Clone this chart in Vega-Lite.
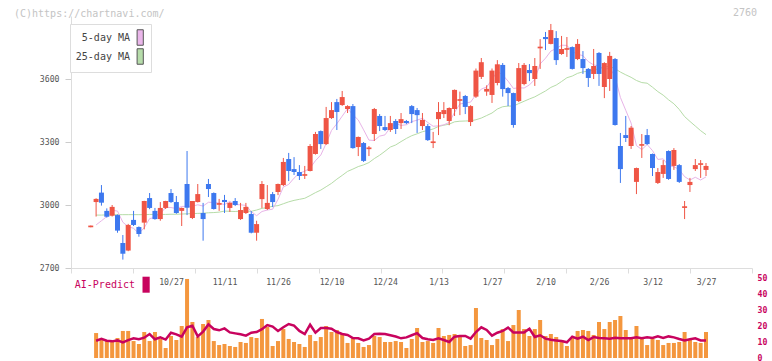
{
"$schema": "https://vega.github.io/schema/vega-lite/v6.json",
"padding": {"left": 14, "top": 8, "right": 4, "bottom": 3},
"background": "white",
"bounds": "flush",
"spacing": 10,
"title": {"text": "2760", "anchor": "end", "frame": "group", "dx": 5, "offset": -9.3},
"datasets": {"d": [
{"d":"2025-10-03","o":2894,"h":2902,"l":2894,"c":2902,"m5":null,"m25":null,"v":0,"ai":null},
{"d":"2025-10-06","o":3014,"h":3032,"l":2945,"c":3029,"m5":2905,"m25":2952,"v":15.6,"ai":10.8},
{"d":"2025-10-07","o":3059,"h":3095,"l":2997,"c":3011,"m5":2925,"m25":2952,"v":11.25,"ai":12},
{"d":"2025-10-08","o":2972,"h":2984,"l":2940,"c":2944,"m5":2945,"m25":2953,"v":11.25,"ai":10.8},
{"d":"2025-10-09","o":2949,"h":3000,"l":2945,"c":2991,"m5":2975,"m25":2953,"v":10.6,"ai":10.4},
{"d":"2025-10-10","o":2952,"h":2955,"l":2868,"c":2878,"m5":2971,"m25":2954,"v":12.5,"ai":11},
{"d":"2025-10-14","o":2819,"h":2857,"l":2740,"c":2768,"m5":2918,"m25":2954,"v":16.9,"ai":9.8},
{"d":"2025-10-15","o":2783,"h":2910,"l":2780,"c":2905,"m5":2897,"m25":2954,"v":16.9,"ai":11.2},
{"d":"2025-10-16","o":2929,"h":2972,"l":2900,"c":2905,"m5":2889,"m25":2954,"v":10.6,"ai":12.3},
{"d":"2025-10-17","o":2895,"h":2898,"l":2849,"c":2862,"m5":2864,"m25":2954,"v":8.75,"ai":11.7},
{"d":"2025-10-20","o":2916,"h":3020,"l":2884,"c":3019,"m5":2892,"m25":2954,"v":16.25,"ai":12.7},
{"d":"2025-10-21","o":3033,"h":3057,"l":2980,"c":2986,"m5":2935,"m25":2955,"v":10.6,"ai":15},
{"d":"2025-10-22","o":2972,"h":2986,"l":2930,"c":2933,"m5":2941,"m25":2955,"v":16.25,"ai":11.7},
{"d":"2025-10-23","o":2933,"h":3014,"l":2925,"c":2986,"m5":2957,"m25":2955,"v":11.9,"ai":12.9},
{"d":"2025-10-24","o":2986,"h":3020,"l":2981,"c":3019,"m5":2989,"m25":2955,"v":6.25,"ai":11.5},
{"d":"2025-10-27","o":3057,"h":3076,"l":3010,"c":3014,"m5":2988,"m25":2956,"v":13.75,"ai":15.8},
{"d":"2025-10-28","o":3014,"h":3043,"l":2958,"c":2962,"m5":2983,"m25":2956,"v":11.25,"ai":14.8},
{"d":"2025-10-29","o":2972,"h":2988,"l":2900,"c":2986,"m5":2993,"m25":2957,"v":20,"ai":13.3},
{"d":"2025-10-30","o":3100,"h":3257,"l":2952,"c":2987,"m5":2994,"m25":2958,"v":49.4,"ai":19.2},
{"d":"2025-10-31","o":2938,"h":3019,"l":2933,"c":3019,"m5":2994,"m25":2959,"v":22.5,"ai":20.2},
{"d":"2025-11-04","o":3014,"h":3100,"l":3012,"c":3052,"m5":3001,"m25":2960,"v":13.1,"ai":13.5},
{"d":"2025-11-05","o":2962,"h":3010,"l":2830,"c":2933,"m5":2995,"m25":2961,"v":21.25,"ai":16.5},
{"d":"2025-11-06","o":3100,"h":3124,"l":3038,"c":3076,"m5":3013,"m25":2963,"v":23.75,"ai":21},
{"d":"2025-11-07","o":3057,"h":3060,"l":2978,"c":2981,"m5":3012,"m25":2964,"v":10.6,"ai":18.1},
{"d":"2025-11-10","o":3001,"h":3029,"l":2972,"c":3009,"m5":3009,"m25":2966,"v":8.1,"ai":17.3},
{"d":"2025-11-11","o":3024,"h":3048,"l":2962,"c":3014,"m5":3002,"m25":2971,"v":8.75,"ai":18.5},
{"d":"2025-11-12","o":2986,"h":3014,"l":2967,"c":3010,"m5":3017,"m25":2970,"v":7.5,"ai":16},
{"d":"2025-11-13","o":3019,"h":3033,"l":2995,"c":3000,"m5":3002,"m25":2969,"v":6.9,"ai":15.4},
{"d":"2025-11-14","o":2933,"h":3010,"l":2929,"c":2976,"m5":3001,"m25":2971,"v":10,"ai":14.8},
{"d":"2025-11-17","o":2962,"h":3010,"l":2957,"c":2991,"m5":2998,"m25":2971,"v":9.4,"ai":14},
{"d":"2025-11-18","o":2957,"h":2971,"l":2865,"c":2868,"m5":2969,"m25":2970,"v":13.1,"ai":15.8},
{"d":"2025-11-19","o":2868,"h":2925,"l":2830,"c":2909,"m5":2949,"m25":2976,"v":12.5,"ai":16.25},
{"d":"2025-11-20","o":3028,"h":3114,"l":2986,"c":3100,"m5":2969,"m25":2984,"v":24.4,"ai":18},
{"d":"2025-11-21","o":2981,"h":3095,"l":2976,"c":3010,"m5":2976,"m25":2988,"v":19.4,"ai":20.6},
{"d":"2025-11-25","o":3052,"h":3062,"l":2990,"c":3014,"m5":2980,"m25":2994,"v":7.5,"ai":19.6},
{"d":"2025-11-26","o":3062,"h":3102,"l":3047,"c":3100,"m5":3027,"m25":2997,"v":10.6,"ai":16.9},
{"d":"2025-11-27","o":3095,"h":3224,"l":3090,"c":3205,"m5":3086,"m25":3006,"v":18.1,"ai":19.2},
{"d":"2025-11-28","o":3219,"h":3248,"l":3114,"c":3162,"m5":3098,"m25":3015,"v":11.9,"ai":21.25},
{"d":"2025-12-01","o":3171,"h":3228,"l":3143,"c":3157,"m5":3128,"m25":3022,"v":10,"ai":20.2},
{"d":"2025-12-02","o":3157,"h":3190,"l":3119,"c":3138,"m5":3152,"m25":3027,"v":8.75,"ai":16.9},
{"d":"2025-12-03","o":3139,"h":3186,"l":3124,"c":3147,"m5":3161,"m25":3032,"v":6.9,"ai":15},
{"d":"2025-12-04","o":3162,"h":3290,"l":3160,"c":3281,"m5":3176,"m25":3045,"v":14.4,"ai":20.8},
{"d":"2025-12-05","o":3243,"h":3348,"l":3240,"c":3338,"m5":3211,"m25":3059,"v":10.6,"ai":15.8},
{"d":"2025-12-08","o":3352,"h":3355,"l":3267,"c":3290,"m5":3238,"m25":3071,"v":13.1,"ai":18.75},
{"d":"2025-12-09","o":3290,"h":3467,"l":3286,"c":3414,"m5":3293,"m25":3087,"v":20,"ai":18.75},
{"d":"2025-12-10","o":3414,"h":3490,"l":3410,"c":3452,"m5":3355,"m25":3103,"v":16.25,"ai":18.3},
{"d":"2025-12-11","o":3490,"h":3505,"l":3357,"c":3443,"m5":3387,"m25":3123,"v":17.5,"ai":16.25},
{"d":"2025-12-12","o":3476,"h":3543,"l":3472,"c":3514,"m5":3423,"m25":3141,"v":15,"ai":15},
{"d":"2025-12-15","o":3457,"h":3475,"l":3438,"c":3471,"m5":3459,"m25":3160,"v":9.4,"ai":14.4},
{"d":"2025-12-16","o":3471,"h":3481,"l":3268,"c":3271,"m5":3430,"m25":3171,"v":12.5,"ai":12.5},
{"d":"2025-12-17","o":3276,"h":3326,"l":3233,"c":3324,"m5":3405,"m25":3183,"v":9.4,"ai":12.3},
{"d":"2025-12-18","o":3295,"h":3300,"l":3205,"c":3210,"m5":3358,"m25":3191,"v":6.9,"ai":11},
{"d":"2025-12-19","o":3266,"h":3281,"l":3233,"c":3274,"m5":3309,"m25":3202,"v":8.1,"ai":12.1},
{"d":"2025-12-22","o":3338,"h":3462,"l":3305,"c":3457,"m5":3307,"m25":3221,"v":13.75,"ai":15},
{"d":"2025-12-23","o":3424,"h":3433,"l":3352,"c":3376,"m5":3328,"m25":3237,"v":13.1,"ai":15.2},
{"d":"2025-12-24","o":3371,"h":3424,"l":3352,"c":3357,"m5":3334,"m25":3256,"v":10,"ai":15},
{"d":"2025-12-25","o":3357,"h":3424,"l":3348,"c":3390,"m5":3370,"m25":3276,"v":10,"ai":14.2},
{"d":"2025-12-26","o":3400,"h":3409,"l":3338,"c":3362,"m5":3388,"m25":3286,"v":10.6,"ai":13.4},
{"d":"2025-12-29","o":3390,"h":3438,"l":3362,"c":3409,"m5":3379,"m25":3302,"v":10,"ai":12.3},
{"d":"2025-12-30","o":3400,"h":3405,"l":3385,"c":3390,"m5":3382,"m25":3317,"v":6.25,"ai":12.9},
{"d":"2026-01-05","o":3471,"h":3476,"l":3390,"c":3433,"m5":3397,"m25":3330,"v":11.9,"ai":14.2},
{"d":"2026-01-06","o":3452,"h":3462,"l":3343,"c":3428,"m5":3404,"m25":3339,"v":18.75,"ai":15.5},
{"d":"2026-01-07","o":3376,"h":3438,"l":3357,"c":3405,"m5":3413,"m25":3349,"v":10,"ai":12.5},
{"d":"2026-01-08","o":3376,"h":3386,"l":3305,"c":3309,"m5":3393,"m25":3355,"v":10.6,"ai":11.7},
{"d":"2026-01-09","o":3295,"h":3348,"l":3271,"c":3303,"m5":3375,"m25":3362,"v":9.4,"ai":11.25},
{"d":"2026-01-13","o":3409,"h":3490,"l":3333,"c":3443,"m5":3377,"m25":3374,"v":18.75,"ai":12.3},
{"d":"2026-01-14","o":3433,"h":3490,"l":3414,"c":3452,"m5":3382,"m25":3380,"v":13.75,"ai":11.25},
{"d":"2026-01-15","o":3400,"h":3465,"l":3380,"c":3462,"m5":3393,"m25":3385,"v":14.4,"ai":10},
{"d":"2026-01-16","o":3457,"h":3550,"l":3424,"c":3548,"m5":3441,"m25":3396,"v":15,"ai":13.3},
{"d":"2026-01-19","o":3496,"h":3540,"l":3428,"c":3504,"m5":3481,"m25":3399,"v":13.1,"ai":13.75},
{"d":"2026-01-20","o":3519,"h":3524,"l":3433,"c":3467,"m5":3486,"m25":3400,"v":7.5,"ai":13.75},
{"d":"2026-01-21","o":3395,"h":3475,"l":3376,"c":3471,"m5":3490,"m25":3401,"v":8.1,"ai":12.1},
{"d":"2026-01-22","o":3516,"h":3650,"l":3510,"c":3640,"m5":3525,"m25":3406,"v":31.25,"ai":16.25},
{"d":"2026-01-23","o":3610,"h":3700,"l":3600,"c":3680,"m5":3552,"m25":3414,"v":12.5,"ai":19.2},
{"d":"2026-01-26","o":3540,"h":3570,"l":3520,"c":3553,"m5":3562,"m25":3426,"v":11.25,"ai":17.5},
{"d":"2026-01-27","o":3524,"h":3650,"l":3486,"c":3640,"m5":3597,"m25":3438,"v":8.1,"ai":14},
{"d":"2026-01-28","o":3581,"h":3690,"l":3570,"c":3670,"m5":3637,"m25":3457,"v":11.9,"ai":15.8},
{"d":"2026-01-29","o":3667,"h":3676,"l":3516,"c":3552,"m5":3619,"m25":3468,"v":18.1,"ai":16.9},
{"d":"2026-01-30","o":3557,"h":3562,"l":3471,"c":3533,"m5":3590,"m25":3471,"v":10.6,"ai":19},
{"d":"2026-02-02","o":3533,"h":3535,"l":3368,"c":3381,"m5":3555,"m25":3471,"v":20.6,"ai":16},
{"d":"2026-02-03","o":3495,"h":3676,"l":3490,"c":3652,"m5":3558,"m25":3483,"v":30,"ai":16},
{"d":"2026-02-04","o":3576,"h":3676,"l":3570,"c":3667,"m5":3557,"m25":3494,"v":18.1,"ai":16},
{"d":"2026-02-05","o":3643,"h":3671,"l":3590,"c":3628,"m5":3572,"m25":3505,"v":13.75,"ai":18.3},
{"d":"2026-02-06","o":3600,"h":3700,"l":3567,"c":3662,"m5":3598,"m25":3515,"v":18.1,"ai":13.1},
{"d":"2026-02-09","o":3746,"h":3790,"l":3648,"c":3754,"m5":3672,"m25":3529,"v":23.75,"ai":14.2},
{"d":"2026-02-10","o":3800,"h":3824,"l":3738,"c":3790,"m5":3699,"m25":3543,"v":13.75,"ai":12.1},
{"d":"2026-02-12","o":3767,"h":3862,"l":3765,"c":3833,"m5":3733,"m25":3560,"v":15,"ai":11.4},
{"d":"2026-02-13","o":3795,"h":3828,"l":3667,"c":3690,"m5":3745,"m25":3571,"v":13.1,"ai":11},
{"d":"2026-02-16","o":3719,"h":3805,"l":3715,"c":3743,"m5":3761,"m25":3588,"v":11.25,"ai":10.6},
{"d":"2026-02-17","o":3739,"h":3800,"l":3705,"c":3747,"m5":3760,"m25":3606,"v":7.5,"ai":9.8},
{"d":"2026-02-18","o":3752,"h":3755,"l":3645,"c":3648,"m5":3731,"m25":3614,"v":12.5,"ai":13.3},
{"d":"2026-02-19","o":3695,"h":3790,"l":3690,"c":3767,"m5":3718,"m25":3627,"v":16.9,"ai":12.1},
{"d":"2026-02-20","o":3695,"h":3733,"l":3624,"c":3652,"m5":3711,"m25":3634,"v":17.5,"ai":13.3},
{"d":"2026-02-24","o":3648,"h":3652,"l":3562,"c":3605,"m5":3683,"m25":3637,"v":16.9,"ai":11.25},
{"d":"2026-02-25","o":3624,"h":3743,"l":3600,"c":3662,"m5":3667,"m25":3643,"v":14.4,"ai":13.1},
{"d":"2026-02-26","o":3724,"h":3728,"l":3567,"c":3624,"m5":3662,"m25":3649,"v":22.5,"ai":12.5},
{"d":"2026-02-27","o":3562,"h":3680,"l":3509,"c":3676,"m5":3644,"m25":3658,"v":18.1,"ai":12.3},
{"d":"2026-03-02","o":3600,"h":3729,"l":3543,"c":3710,"m5":3655,"m25":3660,"v":22.5,"ai":12.1},
{"d":"2026-03-03","o":3695,"h":3700,"l":3378,"c":3381,"m5":3611,"m25":3649,"v":23.75,"ai":12.7},
{"d":"2026-03-04","o":3281,"h":3343,"l":3105,"c":3171,"m5":3512,"m25":3633,"v":26.25,"ai":12.3},
{"d":"2026-03-05","o":3333,"h":3424,"l":3300,"c":3319,"m5":3451,"m25":3620,"v":17.5,"ai":12.3},
{"d":"2026-03-06","o":3281,"h":3376,"l":3267,"c":3368,"m5":3390,"m25":3608,"v":11.9,"ai":12.3},
{"d":"2026-03-09","o":3110,"h":3178,"l":3052,"c":3176,"m5":3283,"m25":3593,"v":20,"ai":12.9},
{"d":"2026-03-10","o":3282,"h":3338,"l":3224,"c":3290,"m5":3264,"m25":3583,"v":11.9,"ai":12.3},
{"d":"2026-03-11","o":3333,"h":3362,"l":3286,"c":3290,"m5":3288,"m25":3580,"v":8.1,"ai":12.9},
{"d":"2026-03-12","o":3243,"h":3245,"l":3138,"c":3176,"m5":3259,"m25":3561,"v":11.9,"ai":12.5},
{"d":"2026-03-13","o":3105,"h":3176,"l":3100,"c":3157,"m5":3217,"m25":3540,"v":11.25,"ai":13.5},
{"d":"2026-03-16","o":3148,"h":3214,"l":3129,"c":3190,"m5":3220,"m25":3523,"v":8.1,"ai":12.5},
{"d":"2026-03-17","o":3257,"h":3260,"l":3120,"c":3124,"m5":3187,"m25":3501,"v":9.4,"ai":13.5},
{"d":"2026-03-18","o":3186,"h":3271,"l":3167,"c":3262,"m5":3182,"m25":3482,"v":9.4,"ai":12.9},
{"d":"2026-03-19","o":3190,"h":3195,"l":3105,"c":3110,"m5":3169,"m25":3455,"v":10,"ai":11.9},
{"d":"2026-03-23","o":2986,"h":3019,"l":2933,"c":2994,"m5":3135,"m25":3421,"v":16.25,"ai":11},
{"d":"2026-03-24","o":3095,"h":3129,"l":3062,"c":3110,"m5":3119,"m25":3398,"v":11.25,"ai":11.7},
{"d":"2026-03-25","o":3171,"h":3219,"l":3162,"c":3190,"m5":3132,"m25":3376,"v":10,"ai":12.3},
{"d":"2026-03-26","o":3191,"h":3214,"l":3129,"c":3199,"m5":3119,"m25":3354,"v":9.4,"ai":11},
{"d":"2026-03-27","o":3167,"h":3200,"l":3138,"c":3186,"m5":3134,"m25":3335,"v":16.25,"ai":11}
]},
"vconcat": [
{
 "width": 681, "height": 252,
 "title": {"text": "(C)https://chartnavi.com/", "anchor": "start", "frame": "group", "dx": -57, "offset": -2.7},
 "data": {"name": "d"},
 "layer": [
  {
   "mark": {"type": "rule", "opacity": 0},
   "encoding": {
    "x": {"datum": 0, "type": "quantitative", "scale": {"domain": [0, 11], "nice": false, "zero": false},
     "axis": {"orient": "bottom", "values": [0,1,2,3,4,5,6,7,8,9,10,11], "labels": false, "domain": true, "domainColor": "#dddddd", "ticks": true, "tickColor": "#dddddd", "tickSize": 5, "grid": false, "title": null}}
   }
  },
  {
   "encoding": {
    "x": {"field": "d", "type": "ordinal", "scale": {"type": "point", "padding": 0, "range": [19.75, 635]},
     "axis": {"orient": "bottom", "values": ["2025-10-27","2025-11-11","2025-11-26","2025-12-10","2025-12-24","2026-01-13","2026-01-27","2026-02-10","2026-02-26","2026-03-12","2026-03-27"],
      "labelExpr": "toNumber(slice(datum.label,5,7)) + '/' + toNumber(slice(datum.label,8,10))",
      "domain": false, "ticks": false, "tickSize": 0, "labelPadding": 10.5, "labelAngle": 0, "title": null, "grid": false}}
   },
   "layer": [
    {
     "mark": {"type": "line", "strokeWidth": 1, "color": "#b6dca8"},
     "encoding": {
      "y": {"field": "m25", "type": "quantitative", "scale": {"domain": [2700, 3900], "nice": false, "zero": false},
       "axis": {"orient": "left", "values": [2700, 3000, 3300, 3600], "format": "d", "tickSize": 6, "labelPadding": 6, "title": null, "grid": false}}
     }
    },
    {
     "mark": {"type": "line", "strokeWidth": 1, "color": "#e8b4e8"},
     "encoding": {
      "y": {"field": "m5", "type": "quantitative", "scale": {"domain": [2700, 3900], "nice": false, "zero": false},
       "axis": {"orient": "left", "values": [2700, 3000, 3300, 3600], "format": "d", "tickSize": 6, "labelPadding": 6, "title": null, "grid": false}}
     }
    },
    {
     "mark": {"type": "square", "filled": true, "stroke": "#555555", "strokeWidth": 1, "opacity": 0},
     "encoding": {
      "y": {"field": "m5", "type": "quantitative", "scale": {"domain": [2700, 3900], "nice": false, "zero": false},
       "axis": {"orient": "left", "values": [2700, 3000, 3300, 3600], "format": "d", "tickSize": 6, "labelPadding": 6, "title": null, "grid": false}},
      "fill": {"datum": "5-day MA", "scale": {"domain": ["5-day MA", "25-day MA"], "range": ["#eab6ea", "#b6dcaa"]},
       "legend": {"orient": "none", "legendX": -1, "legendY": 8, "title": null, "direction": "vertical",
        "fillColor": "#ffffff", "strokeColor": "#dddddd", "padding": 5, "rowPadding": -2.1,
        "symbolType": "M-0.4,-1H0.4V1H-0.4Z", "symbolSize": 240, "symbolStrokeWidth": 1, "symbolStrokeColor": "#555555", "symbolOpacity": 1,
        "symbolOffset": 56.7, "labelOffset": -18.7, "labelAlign": "right",
        "labelFont": "DejaVu Sans Mono", "labelFontSize": 10, "labelColor": "#444444",
        "labelExpr": "datum.label == '5-day MA' ? '\u00a05-day MA' : datum.label"}}
     }
    },
    {
     "mark": {"type": "square", "filled": true, "stroke": "#555555", "strokeWidth": 1, "opacity": 0},
     "encoding": {
      "y": {"field": "m25", "type": "quantitative", "scale": {"domain": [2700, 3900], "nice": false, "zero": false},
       "axis": {"orient": "left", "values": [2700, 3000, 3300, 3600], "format": "d", "tickSize": 6, "labelPadding": 6, "title": null, "grid": false}},
      "fill": {"datum": "25-day MA"}
     }
    },
    {
     "mark": {"type": "rule", "strokeWidth": 1},
     "encoding": {
      "y": {"field": "l", "type": "quantitative", "scale": {"domain": [2700, 3900], "nice": false, "zero": false},
       "axis": {"orient": "left", "values": [2700, 3000, 3300, 3600], "format": "d", "tickSize": 6, "labelPadding": 6, "title": null, "grid": false}},
      "y2": {"field": "h"},
      "color": {"condition": {"test": "datum.c >= datum.o", "value": "#ef5545"}, "value": "#3d78ef"}
     }
    },
    {
     "mark": {"type": "bar", "size": 5},
     "encoding": {
      "y": {"field": "o", "type": "quantitative", "scale": {"domain": [2700, 3900], "nice": false, "zero": false},
       "axis": {"orient": "left", "values": [2700, 3000, 3300, 3600], "format": "d", "tickSize": 6, "labelPadding": 6, "title": null, "grid": false}},
      "y2": {"field": "c"},
      "color": {"condition": {"test": "datum.c >= datum.o", "value": "#ef5545"}, "value": "#3d78ef"}
     }
    }
   ]
  }
 ],
 "resolve": {"scale": {"x": "independent"}}
},
{
 "width": 681, "height": 80,
 "data": {"name": "d"},
 "encoding": {
  "x": {"field": "d", "type": "ordinal", "scale": {"type": "point", "padding": 0, "range": [19.75, 635]}, "axis": null}
 },
 "layer": [
  {
   "mark": {"type": "bar", "size": 4, "color": "#f4973e"},
   "encoding": {
    "y": {"field": "v", "type": "quantitative", "scale": {"domain": [0, 50], "nice": false},
     "axis": {"orient": "right", "values": [0,10,20,30,40,50], "domain": false, "ticks": false, "labelPadding": 5, "labelColor": "#c8035e", "labelFontWeight": "bold", "title": null, "grid": false}}
   }
  },
  {
   "mark": {"type": "line", "strokeWidth": 2.5},
   "encoding": {
    "y": {"field": "ai", "type": "quantitative", "scale": {"domain": [0, 50], "nice": false},
     "axis": {"orient": "right", "values": [0,10,20,30,40,50], "domain": false, "ticks": false, "labelPadding": 5, "labelColor": "#c8035e", "labelFontWeight": "bold", "title": null, "grid": false}},
    "color": {"datum": "AI-Predict", "scale": {"range": ["#c8035e"]},
     "legend": {"orient": "none", "legendX": 0, "legendY": -1.3, "title": null, "padding": 0,
      "symbolType": "M-0.45,-1H0.45V1H-0.45Z", "symbolSize": 256, "symbolStrokeWidth": 0,
      "symbolOffset": 67.1, "labelOffset": -19.1, "labelAlign": "right",
      "labelFont": "DejaVu Sans Mono", "labelFontSize": 10, "labelColor": "#c8035e",
      "encode": {"symbols": {"update": {"fill": {"value": "#c8035e"}, "stroke": {"value": "transparent"}, "opacity": {"value": 1}}}}}}
   }
  }
 ]
}
],
"resolve": {"scale": {"color": "independent"}},
"config": {
 "view": {"stroke": null},
 "font": "DejaVu Sans Mono",
 "axis": {"labelFont": "DejaVu Sans Mono", "labelFontSize": 8.2, "labelColor": "#555555", "grid": false, "domainColor": "#dddddd", "tickColor": "#cccccc"},
 "title": {"font": "DejaVu Sans Mono", "fontSize": 10, "fontWeight": "normal", "color": "#c4c4c4"}
}
}
